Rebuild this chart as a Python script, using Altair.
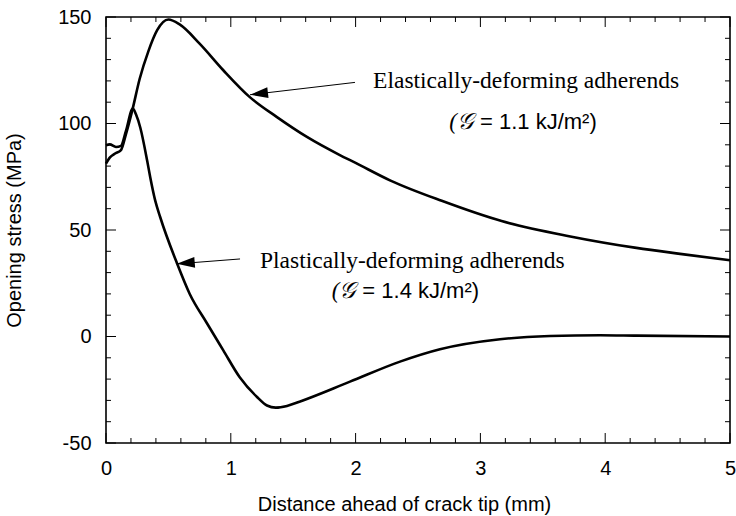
import altair as alt
import pandas as pd

# ---- data ----
el_x = [0.00, 0.03, 0.07, 0.12, 0.16, 0.21, 0.27, 0.34, 0.41, 0.50, 0.59, 0.75, 0.94,
        1.15, 1.37, 1.61, 1.87, 2.00, 2.28, 2.69, 3.17, 3.71, 4.25, 4.60, 5.00]
el_y = [81.2, 84.0, 85.8, 87.5, 95.0, 106.0, 121.0, 134.0, 143.8, 148.8, 146.5, 137.5, 125.0,
        112.5, 103.0, 93.7, 85.3, 81.5, 73.2, 63.7, 54.2, 47.1, 41.6, 38.8, 35.8]

pl_x = [0.00, 0.03, 0.08, 0.12, 0.16, 0.215, 0.24, 0.275, 0.33, 0.354, 0.394, 0.434, 0.57,
        0.67, 0.81, 0.94, 1.07, 1.21, 1.29, 1.36, 1.45, 1.55, 1.955, 2.356, 2.676, 3.157, 3.558,
        3.96, 4.25, 5.00]
pl_y = [89.8, 90.2, 89.0, 89.5, 96.5, 107.0, 104.3, 98.0, 82.5, 74.9, 63.9, 56.1, 34.2,
        20.1, 6.1, -6.5, -19.0, -28.4, -32.4, -33.4, -32.6, -30.6, -21.2, -11.8, -6.0, -1.3, 0.2,
        0.6, 0.4, 0.0]

x_major = [0, 1, 2, 3, 4, 5]
x_minor = [0.2, 0.4, 0.6, 0.8, 1.2, 1.4, 1.6, 1.8, 2.2, 2.4, 2.6, 2.8,
           3.2, 3.4, 3.6, 3.8, 4.2, 4.4, 4.6, 4.8]
y_major = [-50, 0, 50, 100, 150]
y_minor = [-40, -30, -20, -10, 10, 20, 30, 40, 60, 70, 80, 90, 110, 120, 130, 140]

# annotation texts and arrows
line1_text = ["Elastically-deforming adherends", "Plastically-deforming adherends"]
line1_x = [2.14, 1.234]
line1_y = [116.6, 32.2]
g_text = ["(\U0001D4A2", "(\U0001D4A2"]
eq_text = ["= 1.1 kJ/m\u00b2)", "= 1.4 kJ/m\u00b2)"]
line2_x = [2.997, 2.054]
line2_y = [97.3, 18.1]
arrow_x = [1.995, 1.074]
arrow_y = [119.3, 36.4]
tip_x = [1.154, 0.567]
tip_y = [113.5, 34.1]
tip_angle = [353.3, 355.5]

W, H = 624, 426
SANS = "Liberation Sans"
SERIF = "Liberation Serif"

xs = alt.Scale(domain=[0, 5], nice=False, zero=False)
ys = alt.Scale(domain=[-50, 150], nice=False, zero=False)

curves = pd.concat([
    pd.DataFrame({"x": el_x, "y": el_y, "series": "elastic"}),
    pd.DataFrame({"x": pl_x, "y": pl_y, "series": "plastic"}),
])

lines = alt.Chart(curves).mark_line(
    color="black", strokeWidth=2.6, interpolate="monotone"
).encode(
    x=alt.X("x:Q", scale=xs, axis=alt.Axis(
        values=x_major, title="Distance ahead of crack tip (mm)",
        titleX=298, titleY=67, titleBaseline="alphabetic", titleAlign="center",
        labelFlush=False, labelOverlap=False,
        labelExpr="'' + datum.value")),
    y=alt.Y("y:Q", scale=ys, axis=alt.Axis(
        values=y_major, title="Opening stress (MPa)",
        titleX=-86, titleY=213, titleAngle=270, titleBaseline="alphabetic", titleAlign="center",
        labelFlush=False, labelOverlap=False,
        labelExpr="'' + datum.value")),
    detail="series:N",
)


def xticks(vals, length):
    df = pd.DataFrame({"x": vals})
    b = alt.Chart(df).mark_rule(color="black", strokeWidth=1).encode(
        x=alt.X("x:Q", scale=xs), y=alt.value(H), y2=alt.value(H - length))
    t = alt.Chart(df).mark_rule(color="black", strokeWidth=1).encode(
        x=alt.X("x:Q", scale=xs), y=alt.value(0), y2=alt.value(length))
    return [b, t]


def yticks(vals, length):
    df = pd.DataFrame({"y": vals})
    l = alt.Chart(df).mark_rule(color="black", strokeWidth=1).encode(
        y=alt.Y("y:Q", scale=ys), x=alt.value(0), x2=alt.value(length))
    r = alt.Chart(df).mark_rule(color="black", strokeWidth=1).encode(
        y=alt.Y("y:Q", scale=ys), x=alt.value(W), x2=alt.value(W - length))
    return [l, r]


tick_layers = xticks(x_major, 10) + xticks(x_minor, 5) + yticks(y_major, 10) + yticks(y_minor, 5)

ann = pd.DataFrame({
    "x": line1_x, "y": line1_y, "l1": line1_text,
    "g": g_text, "eq": eq_text, "l2x": line2_x, "l2y": line2_y,
    "ax": arrow_x, "ay": arrow_y, "tx": tip_x, "ty": tip_y, "ang": tip_angle,
})

t1 = alt.Chart(ann).mark_text(font=SERIF, fontSize=23.5, align="left", baseline="alphabetic",
                              color="black").encode(
    x=alt.X("x:Q", scale=xs), y=alt.Y("y:Q", scale=ys), text="l1:N")
t2g = alt.Chart(ann).transform_calculate(x="datum.l2x", y="datum.l2y").mark_text(
    font=SERIF, fontSize=23, fontStyle="italic", align="right",
    baseline="alphabetic", color="black", dx=-7).encode(
    x=alt.X("x:Q", scale=xs), y=alt.Y("y:Q", scale=ys), text="g:N")
t2e = alt.Chart(ann).transform_calculate(x="datum.l2x", y="datum.l2y").mark_text(
    font=SANS, fontSize=22, align="left", baseline="alphabetic", color="black").encode(
    x=alt.X("x:Q", scale=xs), y=alt.Y("y:Q", scale=ys), text="eq:N")

arrows = alt.Chart(ann).transform_calculate(x="datum.ax", y="datum.ay").mark_rule(
    color="black", strokeWidth=1).encode(
    x=alt.X("x:Q", scale=xs), y=alt.Y("y:Q", scale=ys), x2="tx:Q", y2="ty:Q")
heads = alt.Chart(ann).transform_calculate(x="datum.tx", y="datum.ty").mark_point(
    shape="M0,0L1,-0.3L1,0.3Z", filled=True, color="black", opacity=1, size=1296, strokeWidth=0
).encode(
    x=alt.X("x:Q", scale=xs), y=alt.Y("y:Q", scale=ys),
    angle=alt.Angle("ang:Q", scale=None))

chart = alt.layer(lines, *tick_layers, arrows, heads, t1, t2g, t2e).properties(
    width=W, height=H, background="white",
    padding={"left": 106, "top": 17, "right": 6, "bottom": 73},
    autosize=alt.AutoSizeParams(type="none"),
).configure_axis(
    ticks=False, domain=False, grid=False,
    labelFont=SANS, labelFontSize=20, labelColor="black", labelPadding=15,
    titleFont=SANS, titleFontSize=20, titleFontWeight="normal", titleColor="black",
).configure_view(stroke="black", strokeWidth=1.6)

chart.save("out.html", embed_options={"renderer": "svg", "actions": False})
